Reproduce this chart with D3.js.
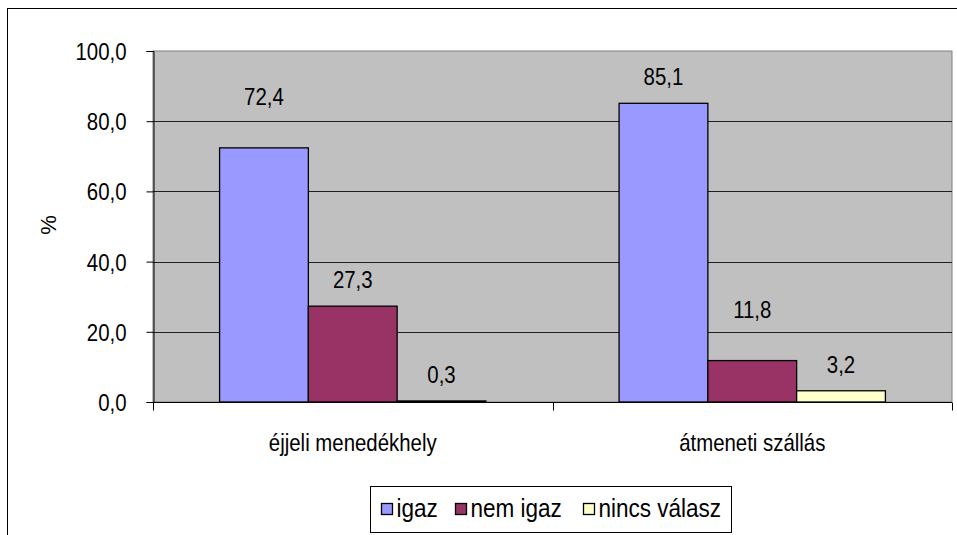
<!DOCTYPE html>
<html>
<head>
<meta charset="utf-8">
<script src="https://cdn.jsdelivr.net/npm/d3@7"></script>
<style>
  html, body { margin: 0; padding: 0; background: #fff; overflow: hidden; }
  text { font-family: "Liberation Sans Narrow", "Arial Narrow", "Liberation Sans", Arial, sans-serif; fill: #000; }
</style>
</head>
<body>
<div id="chart"></div>
<script>
// data
const categories = ['éjjeli menedékhely', 'átmeneti szállás'];
const series = ['igaz', 'nem igaz', 'nincs válasz'];
const igaz = [72.4, 85.1];
const nemIgaz = [27.3, 11.8];
const nincsValasz = [0.3, 3.2];
const yTicks = [0, 20, 40, 60, 80, 100];

const colors = ['#9999FF', '#993366', '#FFFFCC'];
const values = [igaz, nemIgaz, nincsValasz];

const W = 957, H = 535;
const plot = { left: 153, right: 952, top: 51, bottom: 402 };
const FS = 24;
const fmt = v => d3.format('.1f')(v).replace('.', ',');

// no Arial Narrow here, so squeeze the regular face horizontally
const NARROW = 0.85;
function narrow(sel) {
  sel.each(function() {
    const t = d3.select(this);
    const x = +t.attr('x') || 0, yy = +t.attr('y') || 0;
    t.attr('x', 0).attr('y', 0)
      .attr('transform', `translate(${x},${yy}) scale(${NARROW},1)`);
  });
}

const svg = d3.select('#chart').append('svg')
  .attr('width', W).attr('height', H);

// outer chart frame (runs off the right and bottom edge)
svg.append('rect')
  .attr('x', 7.5).attr('y', 8.5)
  .attr('width', W + 10).attr('height', H + 10)
  .attr('fill', '#fff').attr('stroke', '#000').attr('stroke-width', 1);

const x0 = d3.scaleBand().domain(categories).range([plot.left, plot.right]).padding(0);
// gap width 150% -> the three bars fill 2/3 of each band
const x1 = d3.scaleBand().domain(series).range([0, x0.bandwidth()]).paddingOuter(0.75).paddingInner(0);
const y = d3.scaleLinear().domain([0, 100]).range([plot.bottom, plot.top]);

// plot area
svg.append('rect')
  .attr('x', plot.left).attr('y', plot.top)
  .attr('width', plot.right - plot.left).attr('height', plot.bottom - plot.top)
  .attr('fill', '#C0C0C0').attr('stroke', '#808080').attr('stroke-width', 1);

// gridlines
svg.append('g').selectAll('line')
  .data(yTicks.filter(t => t > 0 && t < 100))
  .join('line')
  .attr('x1', plot.left).attr('x2', plot.right)
  .attr('y1', d => Math.round(y(d)) + 0.5).attr('y2', d => Math.round(y(d)) + 0.5)
  .attr('stroke', '#202020').attr('stroke-width', 1);

// bars
const groups = svg.append('g').selectAll('g')
  .data(categories)
  .join('g')
  .attr('transform', d => `translate(${x0(d)},0)`);

const barData = (c, ci) => series.map((s, si) => ({ s, si, v: values[si][ci] }));

groups.selectAll('rect')
  .data((c, ci) => barData(c, ci))
  .join('rect')
  .attr('x', d => x1(d.s))
  .attr('y', d => y(d.v))
  .attr('width', x1.bandwidth())
  .attr('height', d => y(0) - y(d.v))
  .attr('fill', d => colors[d.si])
  .attr('stroke', '#000').attr('stroke-width', 1.3);

// data labels, pushed up when they would sit on a gridline
const gridYs = yTicks.map(t => y(t));
groups.selectAll('text')
  .data((c, ci) => barData(c, ci))
  .join('text')
  .attr('x', d => x1(d.s) + x1.bandwidth() / 2)
  .attr('y', d => {
    let cy = y(d.v) - 26;
    if (gridYs.some(g => Math.abs(g - cy) < 8)) cy -= 25;
    return cy + 8;
  })
  .attr('text-anchor', 'middle')
  .attr('font-size', FS)
  .text(d => fmt(d.v))
  .call(narrow);

// y axis
const yAxis = svg.append('g')
  .attr('transform', `translate(${plot.left + 0.5},0)`)
  .call(d3.axisLeft(y).tickValues(yTicks).tickSize(7).tickPadding(20).tickFormat(fmt));
yAxis.select('.domain').attr('stroke', '#000');
yAxis.selectAll('.tick line').attr('stroke', '#000');
yAxis.selectAll('.tick text')
  .attr('font-size', FS)
  .attr('font-family', null)
  .attr('fill', '#000')
  .attr('dy', '0.35em')
  .call(narrow);

// x axis
const xAxis = svg.append('g')
  .attr('transform', `translate(0,${plot.bottom + 0.5})`);
xAxis.append('line')
  .attr('x1', plot.left).attr('x2', plot.right)
  .attr('stroke', '#000');
xAxis.selectAll('.xt')
  .data(categories.map(c => x0(c)).concat([plot.right]))
  .join('line')
  .attr('class', 'xt')
  .attr('x1', d => Math.round(d) + 0.5).attr('x2', d => Math.round(d) + 0.5)
  .attr('y1', 0).attr('y2', 8)
  .attr('stroke', '#000');
xAxis.selectAll('text')
  .data(categories)
  .join('text')
  .attr('x', d => x0(d) + x0.bandwidth() / 2)
  .attr('y', 48)
  .attr('text-anchor', 'middle')
  .attr('font-size', FS)
  .text(d => d)
  .call(narrow);

// y title
svg.append('text')
  .attr('transform', 'translate(56,225) rotate(-90)')
  .attr('text-anchor', 'middle')
  .attr('font-size', 22)
  .text('%');

// legend
const legend = svg.append('g').attr('transform', 'translate(370.5,486.5)');
legend.append('rect')
  .attr('width', 361).attr('height', 46)
  .attr('fill', '#fff').attr('stroke', '#000');
const itemX = [11, 85, 213];
const items = legend.selectAll('g')
  .data(series)
  .join('g')
  .attr('transform', (d, i) => `translate(${itemX[i]},17)`);
items.append('rect')
  .attr('width', 11).attr('height', 11)
  .attr('fill', (d, i) => colors[i])
  .attr('stroke', '#000').attr('stroke-width', 1.3);
items.append('text')
  .attr('x', 15).attr('y', 13)
  .attr('font-size', 26.5)
  .text(d => d)
  .call(narrow);
</script>
</body>
</html>
